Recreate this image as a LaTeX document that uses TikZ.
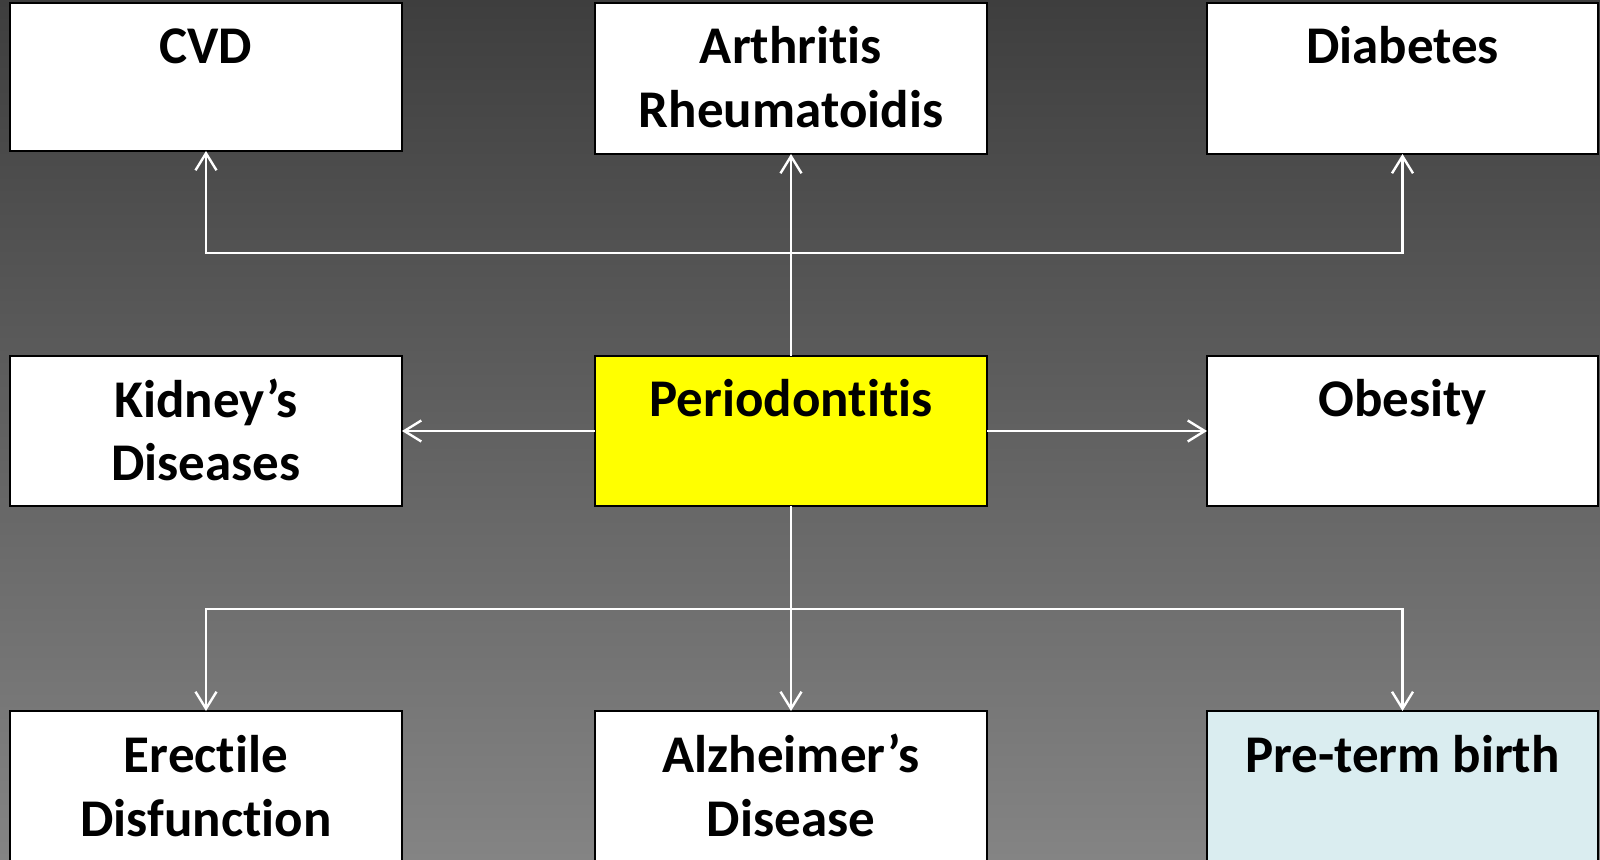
\documentclass[tikz,border=0pt]{standalone}
\usepackage{fontspec}
\setmainfont{Carlito}[Ligatures=NoCommon]
\usetikzlibrary{arrows.meta,calc}
\definecolor{bgtop}{RGB}{62,62,62}
\definecolor{bgbot}{RGB}{132,132,132}
\definecolor{perio}{RGB}{255,255,0}
\definecolor{preterm}{RGB}{218,237,240}
\begin{document}
\begin{tikzpicture}[x=0.5pt,y=-0.5pt,
  box/.style={draw=black, line width=1pt, fill=white, minimum width=196pt, inner sep=0pt, outer sep=0pt, anchor=north west},
  lbl/.style={anchor=base, align=center, font=\fontsize{26.5}{32}\selectfont\bfseries, text=black, inner sep=0pt, yshift=-30.5pt},
  lbltwo/.style={lbl, yshift=-32pt},
  conn/.style={draw=white, line width=1.3pt},
  arr/.style={conn, -{Straight Barb[length=8.5pt,width=10.5pt,line width=1.2pt]}}
]
\useasboundingbox (0,0) rectangle (1600,860);
\begin{scope}
\clip (0,0) rectangle (1600,860);
\fill[top color=bgtop, bottom color=bgbot] (0,0) rectangle (1600,860);

% boxes
\node[box, minimum height=74pt] (cvd) at (10,3) {};
\node[box, minimum height=75.5pt] (art) at (595,3) {};
\node[box, minimum height=75.5pt, minimum width=195.5pt] (dia) at (1207,3) {};
\node[box, minimum height=75pt] (kid) at (10,356) {};
\node[box, minimum height=75pt, fill=perio] (per) at (595,356) {};
\node[box, minimum height=75pt, minimum width=195.5pt] (obe) at (1207,356) {};
\node[box, minimum height=80pt] (ere) at (10,711) {};
\node[box, minimum height=80pt] (alz) at (595,711) {};
\node[box, minimum height=80pt, minimum width=195.5pt, fill=preterm] (pre) at (1207,711) {};

% labels
\node[lbl] (cvdt) at (cvd.north) {CVD};
\node[lbltwo] (artt) at (art.north) {Arthritis\\Rheumatoidis};
\node[lbl] (diat) at (dia.north) {Diabetes};
\node[lbltwo] (kidt) at (kid.north) {Kidney’s\\Diseases};
\node[lbl] (pert) at (per.north) {Periodontitis};
\node[lbl] (obet) at (obe.north) {Obesity};
\node[lbltwo] (eret) at (ere.north) {Erectile\\Disfunction};
\node[lbltwo] (alzt) at (alz.north) {Alzheimer’s\\Disease};
\node[lbl] (pret) at (pre.north) {Pre-term birth};

% connectors
\coordinate (jt) at (per.north |- 0,253);
\coordinate (jb) at (per.south |- 0,609);
\draw[conn] (per.north) -- (jt);
\draw[arr] (jt) -| (cvd.south);
\draw[arr] (jt) -| (dia.south);
\draw[arr] (jt) -- (art.south);
\draw[conn] (per.south) -- (jb);
\draw[arr] (jb) -| (ere.north);
\draw[arr] (jb) -| (pre.north);
\draw[arr] (jb) -- (alz.north);
\draw[arr] (per.west) -- (kid.east);
\draw[arr] (per.east) -- (obe.west);
\end{scope}
\end{tikzpicture}
\end{document}
